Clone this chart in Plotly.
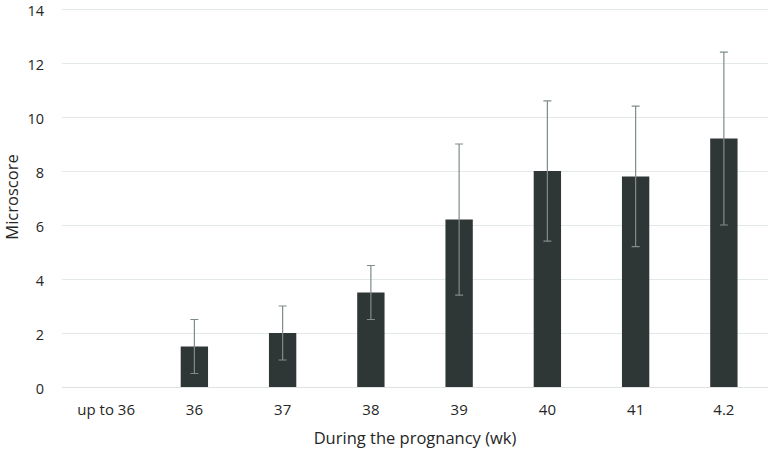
import plotly.graph_objects as go

categories = ["up to 36", "36", "37", "38", "39", "40", "41", "4.2"]
means = [None, 1.5, 2.0, 3.5, 6.2, 8.0, 7.8, 9.2]
errors = [None, 1.0, 1.0, 1.0, 2.8, 2.6, 2.6, 3.2]
y_ticks = [0, 2, 4, 6, 8, 10, 12, 14]

fig = go.Figure()
fig.add_trace(go.Bar(
    x=categories,
    y=means,
    width=0.31,
    marker=dict(color="#2f3636", line=dict(color="#2f3636", width=0)),
    error_y=dict(type="data", array=errors, visible=True,
                 color="#7f8c8c", thickness=1.2, width=4),
))

fig.update_layout(
    width=780, height=454,
    margin=dict(l=62, r=12, t=7, b=67, autoexpand=False),
    paper_bgcolor="white", plot_bgcolor="white",
    font=dict(family="Open Sans, Liberation Sans, sans-serif", size=15, color="#262626"),
    showlegend=False,
    xaxis=dict(
        title=dict(text="During the prognancy (wk)", font=dict(size=16.5), standoff=14),
        showgrid=False, showline=False, zeroline=False,
        ticks="outside", ticklen=9, tickcolor="rgba(0,0,0,0)",
        tickfont=dict(size=15),
        range=[-0.5, 7.5],
    ),
    yaxis=dict(
        title=dict(text="Microscore", font=dict(size=16.5), standoff=9),
        range=[0, 14.074], tickvals=y_ticks,
        showgrid=True, gridcolor="#e3e8e8", gridwidth=1,
        zeroline=True, zerolinecolor="#dde2e2", zerolinewidth=1,
        showline=False, ticks="outside", ticklen=14, tickcolor="rgba(0,0,0,0)",
        tickfont=dict(size=14.5), ticklabeloverflow="allow", ticklabelshift=2,
    ),
)

fig.write_html("out.html", config={"displayModeBar": False},
               post_script="document.body.style.margin='0';")
